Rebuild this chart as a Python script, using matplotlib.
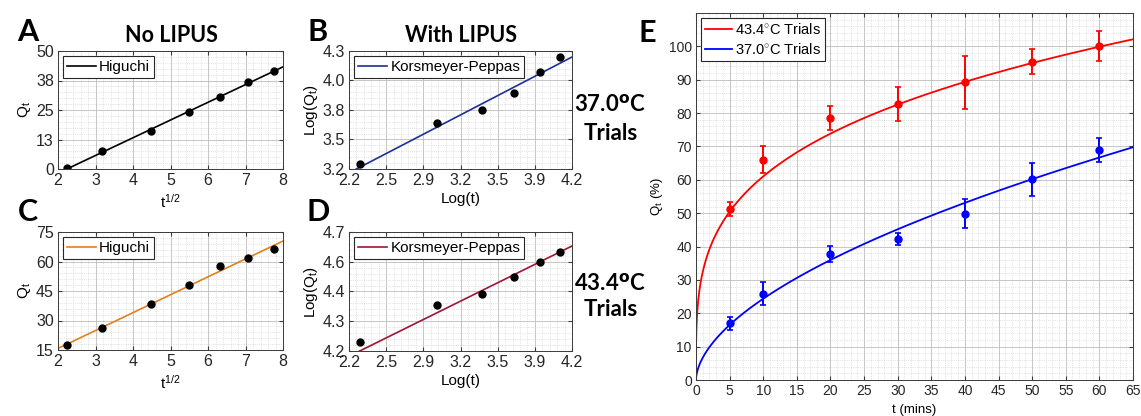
import numpy as np
import matplotlib
matplotlib.use("Agg")
import matplotlib.pyplot as plt
from matplotlib.ticker import MultipleLocator, AutoMinorLocator, FixedLocator

plt.rcParams['font.family'] = ['Liberation Sans', 'DejaVu Sans']
plt.rcParams['mathtext.fontset'] = 'custom'
plt.rcParams['mathtext.rm'] = 'Liberation Sans'
plt.rcParams['mathtext.it'] = 'Liberation Sans:italic'

# ---------------- data ----------------
sqrt_t = [2.24, 3.16, 4.47, 5.48, 6.32, 7.07, 7.75]
qt_no_37 = [0.3, 7.6, 16.2, 24.0, 30.4, 36.9, 41.5]
qt_no_43 = [17.5, 26.3, 38.5, 48.1, 57.6, 61.7, 66.4]
higuchi_37 = (7.51, -16.8)   # slope, intercept
higuchi_43 = (9.10, -2.4)

log_t = [2.30, 2.99, 3.39, 3.68, 3.91, 4.09]
logq_37 = [3.25, 3.63, 3.75, 3.91, 4.10, 4.24]
logq_43 = [4.236, 4.394, 4.44, 4.51, 4.572, 4.615]
kp_lin_37 = (0.540, 1.976)
kp_lin_43 = (0.2317, 3.668)

t_min = [5, 10, 20, 30, 40, 50, 60]
q_43 = [51.3, 66.0, 78.5, 82.7, 89.2, 95.4, 100.1]
err_43 = [2.2, 4.0, 3.5, 5.0, 8.0, 3.7, 4.4]
q_37 = [17.0, 25.9, 37.7, 42.4, 49.9, 60.1, 69.0]
err_37 = [1.9, 3.4, 2.4, 1.8, 4.4, 5.0, 3.6]
kp_43 = (32.4, 0.275)   # k, n
kp_37 = (6.68, 0.562)

yt_A = [0, 12.5, 25, 37.5, 50]; yl_A = ['0', '13', '25', '38', '50']
yt_C = [15, 30, 45, 60, 75]
yt_B = list(np.linspace(3.2, 4.3, 5)); yl_B = ['3.2', '3.5', '3.8', '4.0', '4.3']
yt_D = list(np.linspace(4.2, 4.7, 5)); yl_D = ['4.2', '4.3', '4.4', '4.6', '4.7']
xt_BD = list(np.linspace(2.2, 4.2, 7)); xl_BD = ['2.2', '2.5', '2.9', '3.2', '3.5', '3.9', '4.2']

# ---------------- figure ----------------
W, H = 1141, 416
fig = plt.figure(figsize=(W / 100, H / 100), dpi=100)

def ax_at(l, t, r, b):
    return fig.add_axes([l / W, 1 - b / H, (r - l) / W, (b - t) / H])

def style(ax, fs=11.5):
    ax.set_axisbelow(True)
    ax.grid(True, which='major', color='#bdbdbd', lw=0.6, ls='-')
    ax.grid(True, which='minor', color='#cccccc', lw=0.5, ls=':')
    for s in ax.spines.values():
        s.set_color('#3a3a3a'); s.set_linewidth(0.7)
    ax.tick_params(which='both', direction='in', top=True, right=True,
                   colors='#3a3a3a', labelcolor='#262626', labelsize=fs, pad=3)
    ax.tick_params(which='major', length=3)
    ax.tick_params(which='minor', length=0)

def leg(ax, loc='upper left', fs=11):
    lg = ax.legend(loc=loc, fontsize=fs, frameon=True, fancybox=False,
                   edgecolor='#262626', framealpha=1, handlelength=1.9,
                   borderpad=0.25, handletextpad=0.2, borderaxespad=0.35,
                   labelspacing=0.35)
    lg.get_frame().set_linewidth(0.8)
    return lg

xs = np.linspace(2, 8, 50)
xl = np.linspace(2.2, 4.2, 50)

# A
axA = ax_at(58, 51, 283, 169)
axA.plot(xs, higuchi_37[0] * xs + higuchi_37[1], color='black', lw=1.2, label='Higuchi')
axA.plot(sqrt_t, qt_no_37, 'o', color='black', ms=5)
axA.set_xlim(2, 8); axA.set_ylim(0, 50)
axA.xaxis.set_major_locator(MultipleLocator(1))
axA.set_yticks(yt_A); axA.set_yticklabels(yl_A)
axA.xaxis.set_minor_locator(AutoMinorLocator(5)); axA.yaxis.set_minor_locator(AutoMinorLocator(5))
style(axA); leg(axA)
axA.set_ylabel('Q$_\\mathrm{t}$', fontsize=11, labelpad=2)
axA.set_xlabel('t$^{1/2}$', fontsize=11, labelpad=3)

# B
axB = ax_at(349, 51, 572, 169)
axB.plot(xl, kp_lin_37[0] * xl + kp_lin_37[1], color='#1f2f99', lw=1.2, label='Korsmeyer-Peppas')
axB.plot(log_t, logq_37, 'o', color='black', ms=5)
axB.set_xlim(2.2, 4.2); axB.set_ylim(3.2, 4.3)
axB.set_yticks(yt_B); axB.set_yticklabels(yl_B)
axB.set_xticks(xt_BD); axB.set_xticklabels(xl_BD)
axB.xaxis.set_minor_locator(AutoMinorLocator(5)); axB.yaxis.set_minor_locator(AutoMinorLocator(5))
style(axB); leg(axB)
axB.set_ylabel('Log(Q$_\\mathrm{t}$)', fontsize=11, labelpad=2)
axB.set_xlabel('Log(t)', fontsize=11, labelpad=3)

# C
axC = ax_at(58, 232, 283, 350)
axC.plot(xs, higuchi_43[0] * xs + higuchi_43[1], color='#e0801e', lw=1.2, label='Higuchi')
axC.plot(sqrt_t, qt_no_43, 'o', color='black', ms=5)
axC.set_xlim(2, 8); axC.set_ylim(15, 75)
axC.xaxis.set_major_locator(MultipleLocator(1))
axC.set_yticks(yt_C)
axC.xaxis.set_minor_locator(AutoMinorLocator(5)); axC.yaxis.set_minor_locator(AutoMinorLocator(5))
style(axC); leg(axC)
axC.set_ylabel('Q$_\\mathrm{t}$', fontsize=11, labelpad=2)
axC.set_xlabel('t$^{1/2}$', fontsize=11, labelpad=3)

# D
axD = ax_at(349, 232, 572, 351)
axD.plot(xl, kp_lin_43[0] * xl + kp_lin_43[1], color='#a3142f', lw=1.2, label='Korsmeyer-Peppas')
axD.plot(log_t, logq_43, 'o', color='black', ms=5)
axD.set_xlim(2.2, 4.2); axD.set_ylim(4.2, 4.7)
axD.set_yticks(yt_D); axD.set_yticklabels(yl_D)
axD.set_xticks(xt_BD); axD.set_xticklabels(xl_BD)
axD.xaxis.set_minor_locator(AutoMinorLocator(5)); axD.yaxis.set_minor_locator(AutoMinorLocator(5))
style(axD); leg(axD)
axD.set_ylabel('Log(Q$_\\mathrm{t}$)', fontsize=11, labelpad=2)
axD.set_xlabel('Log(t)', fontsize=11, labelpad=3)

# E
axE = ax_at(696, 13, 1133, 380)
tt = np.concatenate([np.linspace(0, 1, 400), np.linspace(1, 65, 600)])
axE.plot(tt, kp_43[0] * tt ** kp_43[1], color='red', lw=1.3, label='43.4$^{\\circ}$C Trials')
axE.plot(tt, kp_37[0] * tt ** kp_37[1], color='blue', lw=1.3, label='37.0$^{\\circ}$C Trials')
axE.errorbar(t_min, q_43, yerr=err_43, fmt='o', color='red', ms=5, capsize=2.2, elinewidth=1.4, capthick=1.2)
axE.errorbar(t_min, q_37, yerr=err_37, fmt='o', color='blue', ms=5, capsize=2.2, elinewidth=1.4, capthick=1.2)
axE.set_xlim(0, 65); axE.set_ylim(0, 110)
axE.xaxis.set_major_locator(MultipleLocator(5)); axE.yaxis.set_major_locator(FixedLocator(np.arange(0, 101, 10)))
axE.xaxis.set_minor_locator(MultipleLocator(1)); axE.yaxis.set_minor_locator(MultipleLocator(2))
style(axE, fs=10)
leg(axE, fs=10.5)
axE.set_ylabel('Q$_\\mathrm{t}$ (%)', fontsize=9.5, labelpad=3)
axE.set_xlabel('t (mins)', fontsize=9.5, labelpad=4)

# ---------------- annotations ----------------
def ftext(x, y, s, **kw):
    fig.text(x / W, 1 - y / H, s, **kw)

big = dict(family=['Lato', 'DejaVu Sans'], weight='bold', fontsize=22, ha='center', va='center')
ftext(28, 32, 'A', **big)
ftext(318, 32, 'B', **big)
ftext(28, 212, 'C', **big)
ftext(318, 212, 'D', **big)
ftext(647, 33, 'E', **big)

tit = dict(family=['Lato', 'DejaVu Sans'], weight='bold', fontsize=15.5, ha='center', va='center')
ftext(171, 36, 'No LIPUS', **tit)
ftext(461, 36, 'With LIPUS', **tit)

tr = dict(family=['Lato', 'DejaVu Sans'], weight='bold', fontsize=16, ha='center', va='center')
ftext(610, 105, '37.0$^{\\mathbf{o}}$C', **tr)
ftext(611, 133, 'Trials', **tr)
ftext(610, 284, '43.4$^{\\mathbf{o}}$C', **tr)
ftext(611, 310, 'Trials', **tr)

fig.savefig('out.png', dpi=100)
